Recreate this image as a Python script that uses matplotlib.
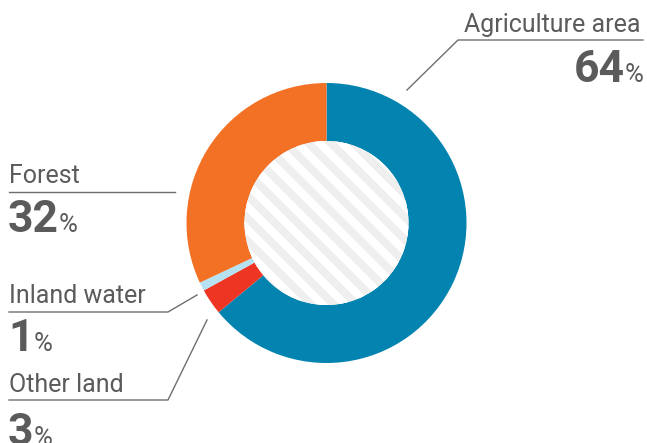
import numpy as np
import matplotlib.pyplot as plt
from matplotlib.patches import Circle

plt.rcParams['font.family'] = ['Roboto', 'DejaVu Sans']

# land use shares, clockwise from the top
categories = ["Agriculture area", "Other land", "Inland water", "Forest"]
shares = [64, 3, 1, 32]
colors = ["#0283B0", "#EE3524", "#B5E1F2", "#F37125"]

W, H = 647, 443
TXT = "#5b5b5b"
LINE = "#6e6e6e"

fig = plt.figure(figsize=(W / 100, H / 100), dpi=100)
ax = fig.add_axes([0, 0, 1, 1])
ax.set_xlim(0, W)
ax.set_ylim(H, 0)   # pixel-like coordinates, y grows downward
ax.set_aspect("equal")
ax.axis("off")

cx, cy, R, r = 326.5, 223, 140, 82

# y axis is flipped, so counterclockwise in data = clockwise on screen
ax.pie(shares, colors=colors, radius=R, center=(cx, cy), startangle=-90,
       counterclock=True, frame=True,
       wedgeprops=dict(width=R - r, linewidth=0))
ax.set_xlim(0, W)
ax.set_ylim(H, 0)
ax.axis("off")

# striped centre
hole = Circle((cx, cy), r, facecolor="#efefef", edgecolor="none", zorder=3)
ax.add_patch(hole)
step = 16 * np.sqrt(2)
for c in np.arange(-260, 260, step):
    xs = np.array([cx - r - 20, cx + r + 20])
    ln, = ax.plot(xs, xs - cx + cy + c + 6, color="white", lw=5.8,
                  solid_capstyle="butt", zorder=4)
    ln.set_clip_path(hole)

renderer = fig.canvas.get_renderer()
inv = ax.transData.inverted()


def value_text(x, y, val, ha="left"):
    if ha == "left":
        t = ax.text(x, y, str(val), fontsize=32, fontweight="bold", color=TXT,
                    ha="left", va="baseline")
        x1 = inv.transform((t.get_window_extent(renderer).x1, 0))[0]
        ax.text(x1, y, "%", fontsize=18.5, color=TXT, ha="left", va="baseline")
    else:
        p = ax.text(x, y, "%", fontsize=18.5, color=TXT, ha="right", va="baseline")
        x0 = inv.transform((p.get_window_extent(renderer).x0, 0))[0]
        ax.text(x0, y, str(val), fontsize=32, fontweight="bold", color=TXT,
                ha="right", va="baseline")


lab = dict(fontsize=18, color=TXT, va="baseline")

# Agriculture area
ax.text(641, 32, categories[0], ha="right", **lab)
ax.plot([407, 458, 643], [90, 40, 40], color=LINE, lw=1)
value_text(644, 82, shares[0], ha="right")

# Forest
ax.text(9, 183, categories[3], ha="left", **lab)
ax.plot([9, 175], [192, 192], color=LINE, lw=1)
value_text(8, 232, shares[3])

# Inland water
ax.text(9, 303, categories[2], ha="left", **lab)
ax.plot([9, 168, 197], [312, 312, 295], color=LINE, lw=1)
value_text(8, 351, shares[2])

# Other land
ax.text(9, 392, categories[1], ha="left", **lab)
ax.plot([9, 168, 207], [400, 400, 320], color=LINE, lw=1)
value_text(8, 445, shares[1])

fig.savefig("out.png", dpi=100)
